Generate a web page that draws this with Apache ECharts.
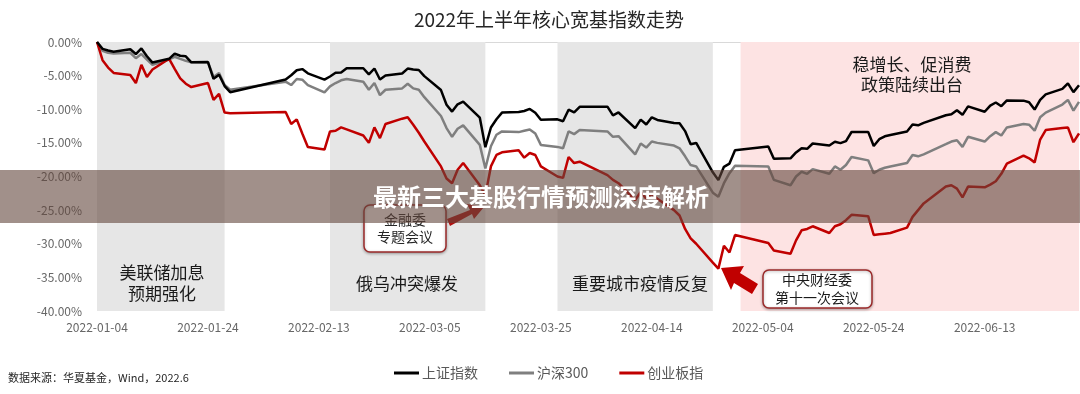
<!DOCTYPE html>
<html>
<head>
<meta charset="utf-8">
<script src="https://cdn.jsdelivr.net/npm/echarts@6/dist/echarts.min.js"></script>
<style>
html,body{margin:0;padding:0;background:#fff;}
#chart{width:1080px;height:394px;}
</style>
</head>
<body>
<div id="chart"></div>
<script>
// ---- data ----
const dates = [
'2022-01-04','2022-01-05','2022-01-06','2022-01-07','2022-01-10','2022-01-11','2022-01-12','2022-01-13','2022-01-14',
'2022-01-17','2022-01-18','2022-01-19','2022-01-20','2022-01-21','2022-01-24','2022-01-25','2022-01-26','2022-01-27','2022-01-28',
'2022-02-07','2022-02-08','2022-02-09','2022-02-10','2022-02-11','2022-02-14','2022-02-15','2022-02-16','2022-02-17','2022-02-18',
'2022-02-21','2022-02-22','2022-02-23','2022-02-24','2022-02-25','2022-02-28',
'2022-03-01','2022-03-02','2022-03-03','2022-03-04','2022-03-07','2022-03-08','2022-03-09','2022-03-10','2022-03-11',
'2022-03-14','2022-03-15','2022-03-16','2022-03-17','2022-03-18','2022-03-21','2022-03-22','2022-03-23','2022-03-24','2022-03-25',
'2022-03-28','2022-03-29','2022-03-30','2022-03-31',
'2022-04-01','2022-04-06','2022-04-07','2022-04-08','2022-04-11','2022-04-12','2022-04-13','2022-04-14','2022-04-15',
'2022-04-18','2022-04-19','2022-04-20','2022-04-21','2022-04-22','2022-04-25','2022-04-26','2022-04-27','2022-04-28','2022-04-29',
'2022-05-05','2022-05-06','2022-05-09','2022-05-10','2022-05-11','2022-05-12','2022-05-13','2022-05-16','2022-05-17','2022-05-18',
'2022-05-19','2022-05-20','2022-05-23','2022-05-24','2022-05-25','2022-05-26','2022-05-27','2022-05-30','2022-05-31',
'2022-06-01','2022-06-02','2022-06-06','2022-06-07','2022-06-08','2022-06-09','2022-06-10','2022-06-13','2022-06-14','2022-06-15',
'2022-06-16','2022-06-17','2022-06-20','2022-06-21','2022-06-22','2022-06-23','2022-06-24','2022-06-27','2022-06-28','2022-06-29','2022-06-30'
];
// 上证指数 (%)
const shValues = [
0,-1.02,-1.27,-1.45,-1.07,-1.79,-0.96,-2.12,-3.06,
-2.50,-1.72,-2.04,-2.13,-3.02,-2.98,-5.48,-4.86,-6.55,-7.46,
-5.58,-4.95,-4.20,-4.03,-4.66,-5.60,-5.13,-4.58,-4.52,-3.90,
-3.90,-4.82,-3.94,-5.57,-4.98,-4.68,
-3.95,-4.08,-4.16,-5.08,-7.15,-9.33,-10.35,-9.26,-8.88,
-11.25,-15.65,-12.71,-11.49,-10.50,-10.42,-10.26,-9.95,-10.52,-11.57,
-11.50,-11.79,-10.07,-10.46,
-9.63,-9.61,-10.90,-10.48,-12.81,-11.54,-12.27,-11.20,-11.59,
-12.03,-12.07,-13.25,-15.21,-15.01,-19.38,-20.54,-18.56,-18.08,-16.11,
-15.54,-17.36,-17.29,-16.42,-15.79,-15.89,-15.09,-15.38,-14.83,-15.04,
-14.74,-13.38,-13.37,-15.46,-14.45,-14.02,-13.82,-13.30,-12.28,
-12.39,-12.03,-10.90,-10.75,-10.14,-10.83,-9.57,-10.37,-9.45,-9.00,
-9.55,-8.69,-8.72,-8.96,-10.05,-8.59,-7.78,-6.97,-6.14,-7.45,-6.43
];
// 沪深300 (%)
const hsValues = [
0,-1.3,-1.6,-1.7,-1.6,-2.4,-1.8,-2.6,-3.4,
-2.6,-2.2,-2.5,-2.8,-3.0,-3.0,-5.2,-4.6,-6.4,-7.1,
-5.9,-6.4,-5.5,-5.6,-6.4,-7.5,-6.6,-6.1,-5.7,-5.5,
-5.9,-7.1,-6.1,-7.9,-7.1,-6.9,
-6.2,-6.9,-7.1,-8.2,-11.0,-12.8,-14.1,-12.9,-12.4,
-15.3,-18.8,-15.5,-13.8,-13.3,-13.4,-13.2,-13.0,-13.6,-15.3,
-15.6,-15.8,-13.3,-13.7,
-13.1,-13.3,-14.1,-14.0,-16.7,-15.1,-15.7,-14.8,-15.0,
-15.4,-15.8,-17.0,-18.3,-18.5,-22.4,-23.0,-21.0,-19.5,-18.4,
-18.5,-20.5,-21.3,-20.0,-19.3,-19.6,-18.9,-19.6,-18.5,-19.0,
-18.3,-17.1,-17.6,-19.5,-19.0,-18.7,-18.5,-18.0,-16.8,
-17.0,-16.7,-15.2,-14.8,-14.6,-15.6,-14.1,-14.8,-14.0,-13.4,
-13.9,-12.7,-12.2,-12.3,-13.2,-11.2,-10.5,-9.3,-8.6,-10.2,-8.9
];
// 创业板指 (%)
const cybValues = [
0,-2.7,-3.8,-4.6,-4.9,-6.1,-3.4,-5.2,-4.1,
-2.5,-4.0,-5.4,-6.2,-6.7,-6.1,-8.6,-7.7,-10.5,-10.6,
-10.4,-12.2,-11.5,-13.6,-15.6,-16.0,-13.3,-13.2,-12.7,-13.0,
-13.9,-15.0,-12.7,-14.3,-12.2,-11.4,
-11.2,-12.3,-13.5,-14.8,-18.5,-20.3,-21.0,-19.0,-18.0,
-21.3,-22.8,-18.5,-16.8,-16.4,-16.1,-17.2,-16.5,-16.8,-18.5,
-20.0,-20.2,-17.1,-18.0,
-17.8,-19.8,-20.5,-21.0,-23.5,-22.3,-23.3,-22.6,-23.3,
-25.0,-25.8,-27.8,-29.2,-30.0,-32.8,-33.7,-30.3,-31.3,-28.7,
-29.9,-31.0,-31.5,-29.5,-28.0,-27.8,-27.4,-28.4,-27.4,-27.1,
-26.5,-25.7,-25.9,-28.7,-28.6,-28.5,-28.4,-27.6,-26.0,
-25.0,-24.0,-21.5,-21.3,-21.8,-23.1,-21.5,-21.6,-21.2,-20.7,
-19.6,-18.1,-16.9,-17.3,-17.9,-14.5,-13.1,-12.8,-12.7,-14.9,-13.6
];
const seriesNames = ['上证指数','沪深300','创业板指'];
const yTicks = { min: -40, max: 0, step: 5 };
// shaded periods [start, end]
const grayPeriods = [['2022-01-04','2022-01-27'],['2022-02-15','2022-03-15'],['2022-03-28','2022-04-25']];
const pinkPeriods = [['2022-04-30','2022-06-30']];
const axisStart = '2022-01-04', axisEnd = '2022-06-30';

// ---- helpers ----
const DAY = 86400000;
const t0 = Date.parse(axisStart + 'T00:00:00Z');
const dayOf = s => Math.round((Date.parse(s + 'T00:00:00Z') - t0) / DAY);
const fmt = d => { const dt = new Date(t0 + d * DAY); const m = dt.getUTCMonth()+1, dd = dt.getUTCDate();
  return dt.getUTCFullYear() + '-' + (m<10?'0':'') + m + '-' + (dd<10?'0':'') + dd; };
const pairs = vals => dates.map((d,i) => [dayOf(d), vals[i]]);

const FONT = '"Noto Sans CJK SC", "Noto Sans", sans-serif';
const chart = echarts.init(document.getElementById('chart'), null, {renderer:'canvas'});

const areaData = [];
grayPeriods.forEach(p => areaData.push([{xAxis: dayOf(p[0]), yAxis: 0, itemStyle:{color:'#e6e6e6'}}, {xAxis: dayOf(p[1]), yAxis: -40.9}]));
pinkPeriods.forEach(p => areaData.push([{xAxis: dayOf(p[0]), yAxis: 0, itemStyle:{color:'#fde3e3'}}, {xAxis: dayOf(p[1]), yAxis: -40.9}]));

const lineCommon = { type:'line', showSymbol:false, symbol:'none', smooth:false, animation:false };

chart.setOption({
  animation: false,
  textStyle: { fontFamily: FONT },
  title: {
    text: '2022年上半年核心宽基指数走势',
    left: 544, top: 5, textAlign: 'center',
    textStyle: { fontSize: 19, fontWeight: 'normal', color: '#262626', fontFamily: FONT }
  },
  grid: { left: 97, right: 1, top: 42, bottom: 83, containLabel: false },
  legend: {
    data: seriesNames, left: 389, top: 361, icon: 'rect', itemWidth: 25, itemHeight: 3, itemGap: 31,
    textStyle: { color: '#595959', fontSize: 14, fontFamily: FONT, padding: [0,0,0,-2] }
  },
  xAxis: [{
    type: 'value', min: dayOf(axisStart), max: dayOf(axisEnd), interval: 20,
    axisLine: { show: false }, axisTick: { show: false }, splitLine: { show: false },
    axisLabel: { formatter: v => fmt(v), color: '#666', fontSize: 12, margin: 10, showMaxLabel: false, fontFamily: FONT }
  },{
    type: 'value', position: 'top', min: dayOf(axisStart), max: dayOf(axisEnd),
    axisLine: { show: true, lineStyle: { color: '#d9d9d9', width: 1 } },
    axisTick: { show: false }, axisLabel: { show: false }, splitLine: { show: false }
  }],
  yAxis: {
    type: 'value', min: yTicks.min, max: yTicks.max, interval: yTicks.step,
    axisLine: { show: false }, axisTick: { show: false }, splitLine: { show: false },
    axisLabel: { formatter: v => v.toFixed(2) + '%', color: '#666', fontSize: 12, margin: 15, fontFamily: FONT }
  },
  series: [
    Object.assign({}, lineCommon, { name: 'shade', data: [], z: 1, clip: false, silent: true,
      markArea: { silent: true, data: areaData } }),
    Object.assign({}, lineCommon, { name: '沪深300', data: pairs(hsValues), z: 3,
      lineStyle: { color: '#7f7f7f', width: 2.5 }, itemStyle: { color: '#7f7f7f' } }),
    Object.assign({}, lineCommon, { name: '创业板指', data: pairs(cybValues), z: 4,
      lineStyle: { color: '#c00000', width: 2.5 }, itemStyle: { color: '#c00000' } }),
    Object.assign({}, lineCommon, { name: '上证指数', data: pairs(shValues), z: 5,
      lineStyle: { color: '#000000', width: 2.5 }, itemStyle: { color: '#000000' } })
  ],
  graphic: [
    { type:'text', z: 50, style:{ text:'美联储加息\n预期强化', x:162, y:283, align:'center', verticalAlign:'middle', font:'17px '+FONT, fill:'#1a1a1a', lineHeight:21 } },
    { type:'text', z: 50, style:{ text:'俄乌冲突爆发', x:407, y:284, align:'center', verticalAlign:'middle', font:'17px '+FONT, fill:'#1a1a1a' } },
    { type:'text', z: 50, style:{ text:'重要城市疫情反复', x:640, y:284, align:'center', verticalAlign:'middle', font:'17px '+FONT, fill:'#1a1a1a' } },
    { type:'text', z: 50, style:{ text:'稳增长、促消费\n政策陆续出台', x:912, y:75, align:'center', verticalAlign:'middle', font:'17px '+FONT, fill:'#1a1a1a', lineHeight:20 } },
    // callout 1
    { type:'rect', z: 60, shape:{ x:364, y:205, width:82, height:47, r:6 }, style:{ fill:'#fff', stroke:'#9b2a2a', lineWidth:1.5, shadowBlur:3, shadowColor:'rgba(0,0,0,0.3)', shadowOffsetY:1 } },
    { type:'text', z: 61, style:{ text:'金融委\n专题会议', x:405, y:228, align:'center', verticalAlign:'middle', font:'14px '+FONT, fill:'#262626', lineHeight:17 } },
    { type:'polygon', z: 60, shape:{ points:[[447,219],[470,210],[467,204],[484,207],[474,219],[472,214],[450,226]] }, style:{ fill:'#b01010' } },
    // callout 2
    { type:'rect', z: 60, shape:{ x:763, y:270, width:109, height:38, r:6 }, style:{ fill:'#fff', stroke:'#9b2a2a', lineWidth:1.5, shadowBlur:3, shadowColor:'rgba(0,0,0,0.3)', shadowOffsetY:1 } },
    { type:'text', z: 61, style:{ text:'中央财经委\n第十一次会议', x:817, y:289, align:'center', verticalAlign:'middle', font:'14px '+FONT, fill:'#1a1a1a', lineHeight:18 } },
    { type:'polygon', z: 60, shape:{ points:[[721,268],[744,266],[740,273],[758,284],[752,294],[734,283],[731,290]] }, style:{ fill:'#c00000' } },
    // source
    { type:'text', z: 50, style:{ text:'数据来源：华夏基金，Wind，2022.6', x:8, y:378, verticalAlign:'middle', font:'11px '+FONT, fill:'#262626' } },
    // overlay banner
    { type:'rect', z: 100, shape:{ x:0, y:170, width:1080, height:53 }, style:{ fill:'rgba(98,70,60,0.6)' } },
    { type:'text', z: 101, style:{ text:'最新三大基股行情预测深度解析', x:541, y:197, align:'center', verticalAlign:'middle', font:'bold 24px '+FONT, fill:'#ffffff' } }
  ]
});
</script>
</body>
</html>
